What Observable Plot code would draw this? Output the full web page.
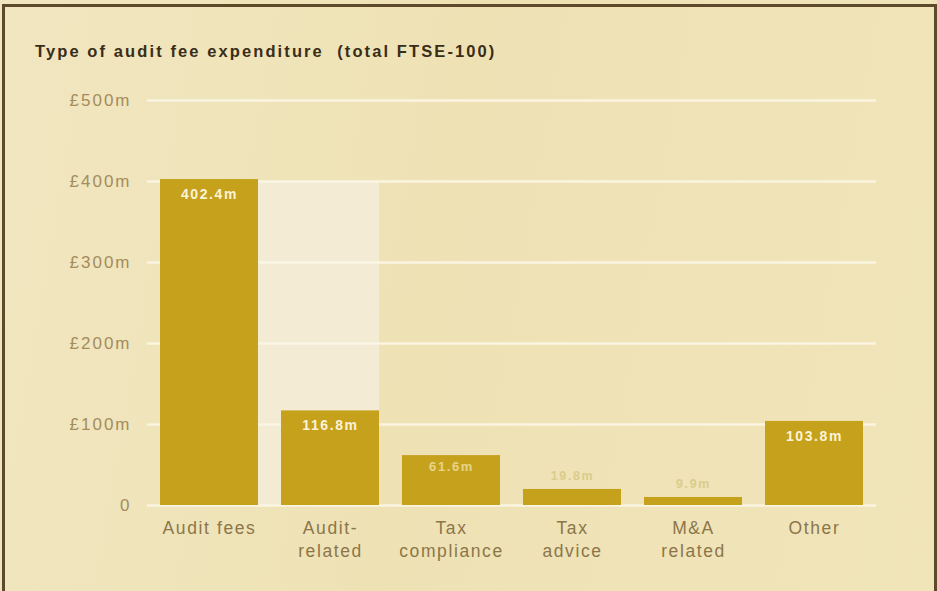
<!DOCTYPE html>
<html>
<head>
<meta charset="utf-8">
<script src="https://cdn.jsdelivr.net/npm/d3@7"></script>
<script src="https://cdn.jsdelivr.net/npm/@observablehq/plot@0.6"></script>
<style>
  html, body { margin: 0; padding: 0; background: #efe3b7; }
  #card {
    position: relative; width: 937px; height: 591px; overflow: hidden;
    background: linear-gradient(100deg, #f1e6c0 0%, #eee2b5 45%, #f0e4b9 100%);
    font-family: "Liberation Sans", Arial, sans-serif;
  }
  #frame {
    position: absolute; left: 2px; top: 4px; width: 929px; height: 600px;
    border-left: 3px solid #5e4a2a; border-top: 3px solid #5e4a2a; border-right: 3px solid #5e4a2a;
  }
  #title {
    position: absolute; left: 35px; top: 42px;
    font-size: 16.5px; font-weight: bold; letter-spacing: 2.1px; color: #3a2d18;
  }
  #chart { position: absolute; left: 0; top: 70px; }
  /* wider tracking on axis and value labels */
  #chart g[aria-label="x-axis tick label"] text { letter-spacing: 1.6px; }
  #chart g[aria-label="y-axis tick label"] text { letter-spacing: 2px; }
  #chart g[aria-label="text"] text { letter-spacing: 1.6px; }
</style>
</head>
<body>
<div id="card">
  <div id="frame"></div>
  <div id="title">Type of audit fee expenditure&nbsp; (total FTSE-100)</div>
  <div id="chart"></div>
</div>
<script>
// Audit fee expenditure by type, FTSE-100 total (£m)
const categories = ["Audit fees", "Audit-related", "Tax compliance", "Tax advice", "M&A related", "Other"];
const axisLabels = ["Audit fees", "Audit-\nrelated", "Tax\ncompliance", "Tax\nadvice", "M&A\nrelated", "Other"];
const values = [402.4, 116.8, 61.6, 19.8, 9.9, 103.8];
const valueLabels = ["402.4m", "116.8m", "61.6m", "19.8m", "9.9m", "103.8m"];
const yTicks = [0, 100, 200, 300, 400, 500];
// pale panel shown behind the Audit-related column
const highlight = [{category: "Audit-related", top: 400}];

const rows = categories.map((c, i) => ({category: c, value: values[i], label: valueLabels[i]}));
const big = rows.filter(d => d.value >= 100);
const mid = rows.filter(d => d.value >= 40 && d.value < 100);
const small = rows.filter(d => d.value < 40);

const chart = Plot.plot({
  width: 937,
  height: 521,
  marginTop: 30,
  marginBottom: 86,
  marginLeft: 147,
  marginRight: 61,
  style: {background: "transparent", fontFamily: "Liberation Sans, Arial, sans-serif"},
  x: {domain: categories, paddingInner: 0.19, paddingOuter: 0.095},
  y: {domain: [0, 500]},
  marks: [
    Plot.rectY(highlight, {x: "category", y1: 0, y2: "top", fill: "#f3ecd8", fillOpacity: 0.85, insetLeft: -24}),
    Plot.gridY(yTicks, {stroke: "#fbf6e6", strokeOpacity: 0.9, strokeWidth: 2.5}),
    Plot.barY(rows, {x: "category", y: "value", fill: "#c6a11c"}),
    Plot.text(big, {x: "category", y: "value", text: "label", dy: 15, fill: "#fbf3d8",
      fontWeight: "bold", fontSize: 14}),
    Plot.text(mid, {x: "category", y: "value", text: "label", dy: 11, fill: "#e6d48a",
      fontWeight: "bold", fontSize: 13}),
    Plot.text(small, {x: "category", y: "value", text: "label", dy: -13, fill: "#dccc8c",
      fontWeight: "bold", fontSize: 12.5}),
    Plot.axisY({ticks: yTicks, tickSize: 0, tickPadding: 16, fontSize: 17,
      fill: "#a48c5c", tickFormat: d => d === 0 ? "0" : `£${d}m`, label: null}),
    Plot.axisX({tickSize: 0, tickPadding: 13, fontSize: 17.5, fill: "#8c7649",
      lineHeight: 1.28, label: null,
      tickFormat: d => axisLabels[categories.indexOf(d)]})
  ]
});
document.getElementById("chart").appendChild(chart);
</script>
</body>
</html>
